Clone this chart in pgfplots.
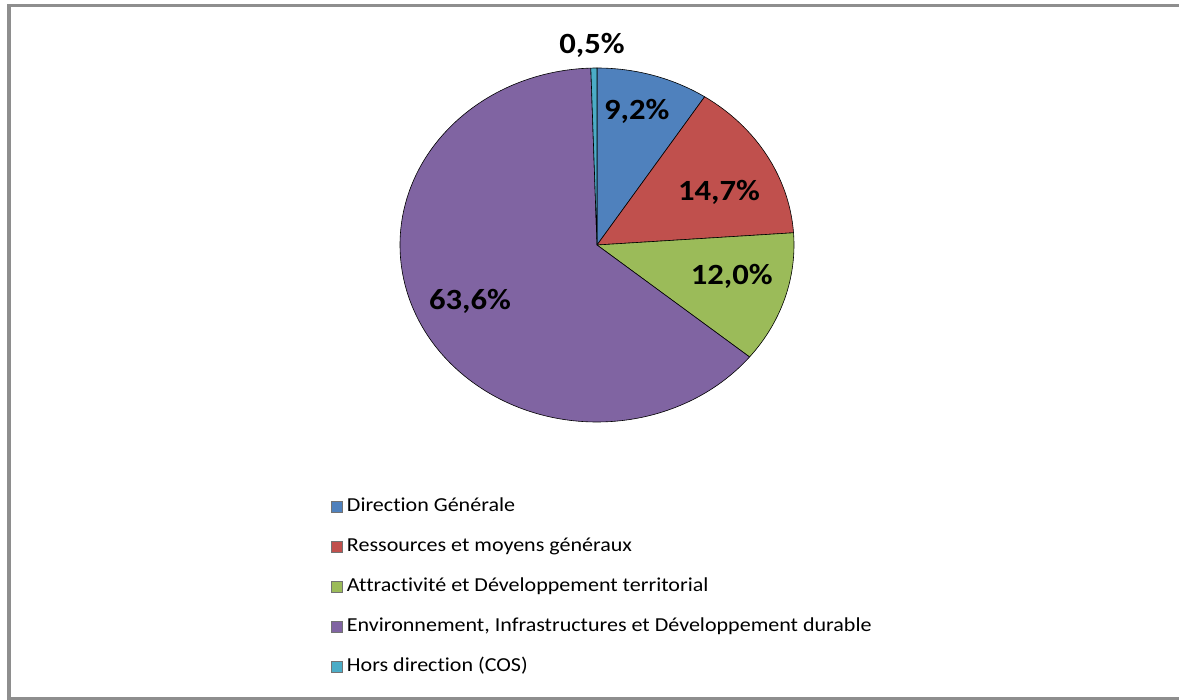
\documentclass[border=0pt]{standalone}
\usepackage{fontspec}
\setmainfont{Carlito}[Ligatures=NoCommon]
\usepackage{graphicx}
\usepackage{pgfplots}
\pgfplotsset{compat=1.18}

\definecolor{dgblue}{HTML}{4F81BD}
\definecolor{rmred}{HTML}{C0504D}
\definecolor{adgreen}{HTML}{9BBB59}
\definecolor{eipurple}{HTML}{8064A2}
\definecolor{hdaqua}{HTML}{4BACC6}
\definecolor{framegray}{HTML}{8E8E8E}

% text is set slightly wide
\newcommand{\wide}[1]{\scalebox{1.113}[1]{#1}}

% one slice, clockwise from twelve o'clock:
% #1 share already used (%), #2 share of the slice (%), #3 colour
\newcommand{\slice}[3]{%
  \pgfmathsetmacro\sa{90-3.6*(#1)}%
  \pgfmathsetmacro\ea{90-3.6*(#1+#2)}%
  \edef\doslice{\noexpand\filldraw[fill=#3,draw=black,line width=0.45pt]
    (axis cs:0,0) -- (axis cs:{cos(\sa)},{sin(\sa)})
    arc[start angle=\sa,end angle=\ea,x radius=147.75pt,y radius=132.75pt] -- cycle;}%
  \doslice}

\begin{document}
\begin{tikzpicture}[x=0.75pt,y=0.75pt]
\useasboundingbox (0,0) rectangle (1179,700);
\draw[framegray,line width=2.3pt] (1185,694.7) -- (9,694.7) -- (9,1) -- (1185,1);

\begin{axis}[
  at={(447.75pt,341.25pt)}, anchor=origin,
  hide axis, scale only axis, clip=false,
  width=295.5pt, height=265.5pt,
  xmin=-1, xmax=1, ymin=-1, ymax=1,
  legend style={at={(-0.175,-0.213)}, anchor=north west,
    draw=none, fill=none, inner sep=0pt, row sep=16.5pt, column sep=3pt,
    font=\fontsize{14.85}{16}\selectfont,
    nodes={inner sep=0pt, text height=10.5pt, text depth=3pt}},
  legend cell align=left,
  legend image code/.code={\draw[#1,draw=black!55,line width=0.5pt]
    (0pt,-4.1pt) rectangle (8.25pt,4.1pt);},
]
% shares in percent
\slice{0}{9.2}{dgblue}
\slice{9.2}{14.7}{rmred}
\slice{23.9}{12.0}{adgreen}
\slice{35.9}{63.6}{eipurple}
\slice{99.5}{0.5}{hdaqua}

\addlegendimage{fill=dgblue}
\addlegendentry{\wide{Direction Générale}}
\addlegendimage{fill=rmred}
\addlegendentry{\wide{Ressources et moyens généraux}}
\addlegendimage{fill=adgreen}
\addlegendentry{\wide{Attractivité et Développement territorial}}
\addlegendimage{fill=eipurple}
\addlegendentry{\wide{Environnement, Infrastructures et Développement durable}}
\addlegendimage{fill=hdaqua}
\addlegendentry{\wide{Hors direction (COS)}}

\begin{scope}[every node/.style={font=\bfseries\fontsize{22}{25}\selectfont}]
\node at (axis cs:0.202,0.753) {\wide{9,2\%}};
\node at (axis cs:0.619,0.295) {\wide{14,7\%}};
\node at (axis cs:0.684,-0.180) {\wide{12,0\%}};
\node at (axis cs:-0.645,-0.316) {\wide{63,6\%}};
\node at (axis cs:-0.025,1.13) {\wide{0,5\%}};
\end{scope}
\end{axis}
\end{tikzpicture}
\end{document}
